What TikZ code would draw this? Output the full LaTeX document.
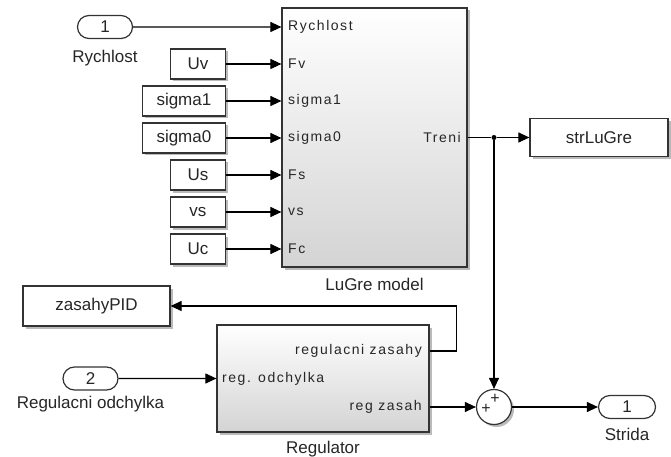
\documentclass[tikz,border=0pt]{standalone}
\usepackage{fontspec}
\setmainfont{Liberation Sans}
\newfontfamily\portfont[LetterSpace=11]{Liberation Sans}
\usetikzlibrary{arrows.meta,positioning,shapes.misc,shadows}

\def\portsize{14}
\def\textsize{17}
\tikzstyle{block}=[draw=black!80, line width=1.2pt, fill=white, inner sep=0pt, text=black!85,
  font=\fontsize{\textsize}{19}\selectfont,
  drop shadow={shadow xshift=2.5pt, shadow yshift=-2.5pt, fill=black!45, opacity=0.6}]
\tikzstyle{subsystem}=[block, top color=white, bottom color=black!17]
\tikzstyle{ioport}=[rounded rectangle, draw=black!80, line width=1.2pt, fill=white, inner sep=0pt,
  minimum width=55pt, minimum height=23pt, text=black!85, font=\fontsize{\textsize}{19}\selectfont]
\tikzstyle{blocklabel}=[inner sep=0pt, text=black!85, font=\fontsize{\textsize}{19}\selectfont]
\tikzstyle{portlabel}=[inner sep=0pt, text=black!85, font=\portfont\fontsize{\portsize}{16}\selectfont]
\tikzstyle{signal}=[line width=1.1pt, ->]

\begin{document}
\begin{tikzpicture}[x=1pt, y=-1pt, >={Triangle[length=11pt, width=10pt]}] % pixel grid, y downwards
  \useasboundingbox (0,0) rectangle (671,457);

  % LuGre model
  \node [subsystem, minimum width=185pt, minimum height=259pt] (lugre) at (374.5,137.5) {};
  \node [blocklabel, below=10pt of lugre] (lugre-label) {LuGre model};
  \foreach \pname [count=\k from 0] in {Rychlost,Fv,sigma1,sigma0,Fs,vs,Fc}
    \node [portlabel, anchor=west] (port-\k) at (288, 27+37*\k) {\pname};
  \node [portlabel, anchor=east] (treni) at (461,137.5) {Treni};

  % inputs of the model
  \node [ioport] (in1) at (105,27) {1};
  \node [blocklabel, below=11pt of in1] (in1-label) {Rychlost};
  \foreach \cname/\w [count=\k] in {Uv/55,sigma1/83,sigma0/83,Us/55,vs/55,Uc/55}
    \node [block, anchor=east, minimum width=\w pt, minimum height=30pt] (const-\k) at (226, 27+37*\k) {\cname};

  \draw [signal] (in1) -- (port-0 -| lugre.west);
  \foreach \k in {1,...,6}
    \draw [signal] (const-\k) -- (port-\k -| lugre.west);

  % friction output
  \node [block, minimum width=138pt, minimum height=38pt] (strlugre) at (599,137.5) {strLuGre};
  \node [circle, fill=black, inner sep=0pt, minimum size=5pt] (branch) at (494,137.5) {};
  \draw [line width=1.1pt] (lugre.east) -- (branch);
  \draw [signal] (branch) -- (strlugre.west);

  % Regulator
  \node [subsystem, minimum width=212pt, minimum height=107pt] (reg) at (323,378.5) {};
  \node [blocklabel, below=8pt of reg] (reg-label) {Regulator};
  \node [portlabel, anchor=west] (p-odchylka) at (222,378.5) {reg. odchylka};
  \node [portlabel, anchor=east] (p-zasahy) at (422,351) {regulacni zasahy};
  \node [portlabel, anchor=east] (p-zasah) at (422,407) {reg zasah};

  \node [ioport] (in2) at (90.5,378.5) {2};
  \node [blocklabel, below=5pt of in2] (in2-label) {Regulacni odchylka};
  \draw [signal] (in2) -- (reg.west);

  \node [block, minimum width=147pt, minimum height=40pt] (zasahy) at (96.5,306) {zasahyPID};
  \draw [signal] (p-zasahy -| reg.east) -- ++(27,0) |- (zasahy.east);

  % sum and output
  \node [block, circle, minimum size=35pt] (sum) at (494,407) {};
  \node [blocklabel, font=\fontsize{16}{18}\selectfont] (plus-1) at (486,409) {+};
  \node [blocklabel, font=\fontsize{16}{18}\selectfont] (plus-2) at (495,399) {+};
  \draw [signal] (branch) -- (sum.north);
  \draw [signal] (p-zasah -| reg.east) -- (sum.west);

  \node [ioport, minimum width=57pt] (out1) at (627,407) {1};
  \node [blocklabel, below=9pt of out1] (out1-label) {Strida};
  \draw [signal] (sum.east) -- (out1.west);
\end{tikzpicture}
\end{document}
